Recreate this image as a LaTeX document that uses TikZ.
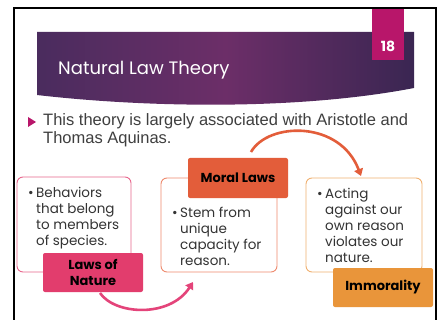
\documentclass[tikz,border=0pt]{standalone}
\usepackage{fontspec}
\setmainfont{Poppins}
\newfontfamily\arialf{Liberation Sans}
\usetikzlibrary{arrows.meta}
\definecolor{numc}{HTML}{B8166A}
\definecolor{banL}{HTML}{4A2C5E}
\definecolor{banM}{HTML}{6C2E68}
\definecolor{banR}{HTML}{3A2652}
\definecolor{pinkF}{HTML}{E23D6D}
\definecolor{pinkO}{HTML}{E8668D}
\definecolor{pinkA}{HTML}{E4447A}
\definecolor{coralF}{HTML}{E35D3A}
\definecolor{coralO}{HTML}{EE8A6E}
\definecolor{oranF}{HTML}{E9953A}
\definecolor{oranO}{HTML}{F0B070}
\definecolor{txtc}{HTML}{333333}
\definecolor{introc}{HTML}{3F3F3F}
\tikzset{
  boxs/.style={draw, line width=0.9pt, rounded corners=6pt, fill=white, inner sep=0pt},
  labs/.style={rounded corners=2pt, inner sep=0pt, minimum width=100pt, font=\fontsize{13}{16}\selectfont\bfseries, text=black, align=center},
  btxt/.style={anchor=base west, inner sep=0pt, text=txtc, font=\fontsize{13.5}{16}\selectfont},
  intro/.style={anchor=base west, inner sep=0pt, text=introc, font=\arialf\fontsize{16.5}{18}\selectfont},
  conn/.style={line width=2.6pt, -{Triangle[length=7pt,width=9pt]}}
}
\begin{document}
\begin{tikzpicture}[x=1pt,y=-1pt]
\useasboundingbox (0,0) rectangle (443,320);
\fill[white] (0,0) rectangle (443,320);
% banner
\shade[left color=banL, right color=banR, middle color=banM]
  (37,32) -- (414,32) -- (414,88) .. controls (300,110) and (150,108) .. (37,95) -- cycle;
\node[anchor=base west, inner sep=0pt, text=white, font=\fontsize{18}{20}\selectfont] (title) at (58,75) {Natural Law Theory};
% number box
\fill[numc] (372,8) rectangle (404,60);
\node[inner sep=0pt, text=white, font=\fontsize{14}{16}\selectfont\bfseries] (num) at (388,46) {18};
% frame
\draw[line width=2pt] (14,320) -- (14,8) -- (436,8) -- (436,320);
% intro bullet
\fill[numc] (28,117) -- (36,122) -- (28,127) -- cycle;
\node[intro] (intro1) at (43,126) {This theory is largely associated with Aristotle and};
\node[intro] (intro2) at (43,144) {Thomas Aquinas.};
% arrows
\coordinate (a1s) at (100,293);
\coordinate (a1e) at (193,282);
\coordinate (a2s) at (251,152);
\coordinate (a2e) at (361,176);
\draw[conn, draw=pinkA] (a1s) .. controls (115,315) and (170,318) .. (a1e);
\draw[conn, draw=coralF] (a2s) .. controls (268,122) and (340,120) .. (a2e);
% boxes
\node[boxs, draw=pinkO, minimum width=114pt, minimum height=95pt] (b1) at (74,224.5) {};
\node[boxs, draw=coralO, minimum width=116pt, minimum height=94pt] (b2) at (219,225) {};
\node[boxs, draw=oranO, minimum width=116pt, minimum height=94pt] (b3) at (364,225) {};
\node[btxt] (t1) at (28,197) {\makebox[8pt][l]{\textbullet}\parbox[t]{90pt}{\raggedright Behaviors\\that belong\\to members\\of species.}};
\node[btxt] (t2) at (172,217) {\makebox[8pt][l]{\textbullet}\parbox[t]{95pt}{\raggedright Stem from\\unique\\capacity for\\reason.}};
\node[btxt] (t3) at (317,198) {\makebox[8pt][l]{\textbullet}\parbox[t]{95pt}{\raggedright Acting\\against our\\own reason\\violates our\\nature.}};
% labels
\node[labs, fill=pinkF, minimum height=39pt] (l1) at (93,272.5) {Laws of\\Nature};
\node[labs, fill=coralF, minimum height=40pt] (l2) at (238,178) {Moral Laws};
\node[labs, fill=oranF, minimum height=39pt] (l3) at (383,287.5) {Immorality};
\end{tikzpicture}
\end{document}
